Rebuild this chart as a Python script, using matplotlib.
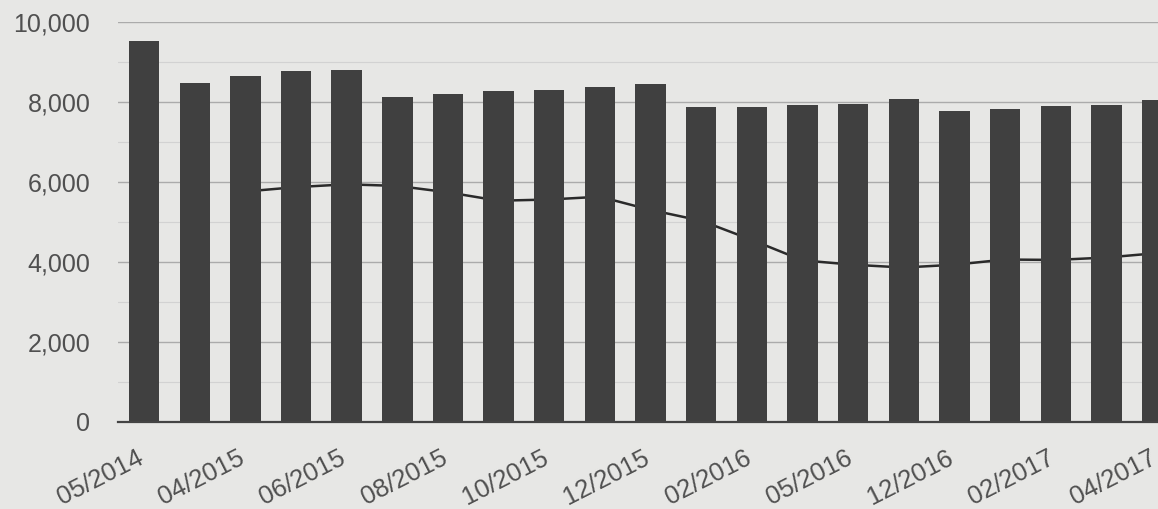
import numpy as np
import matplotlib
matplotlib.use("Agg")
import matplotlib.pyplot as plt
import matplotlib.transforms as mtransforms
from matplotlib.ticker import FuncFormatter, MultipleLocator

# ── data ────────────────────────────────────────────────────────────
months = ["05/2014", "03/2015", "04/2015", "05/2015", "06/2015", "07/2015",
          "08/2015", "09/2015", "10/2015", "11/2015", "12/2015", "01/2016",
          "02/2016", "03/2016", "05/2016", "11/2016", "12/2016", "01/2017",
          "02/2017", "03/2017", "04/2017"]
bar_values = [9520, 8480, 8650, 8780, 8800, 8120, 8200, 8270, 8300, 8370,
              8450, 7870, 7870, 7920, 7950, 8080, 7780, 7830, 7900, 7920,
              8050]
line_values = [np.nan, np.nan, 5760, 5870, 5940, 5900, 5740, 5530, 5560,
               5630, 5300, 5030, 4550, 4040, 3930, 3860, 3930, 4060, 4050,
               4110, 4220]
shown_labels = ["05/2014", "04/2015", "06/2015", "08/2015", "10/2015",
                "12/2015", "02/2016", "05/2016", "12/2016", "02/2017",
                "04/2017"]

BG = "#e7e7e5"
BAR = "#404040"
TXT = "#505050"

plt.rcParams["font.family"] = ["Liberation Sans", "DejaVu Sans"]

fig = plt.figure(figsize=(11.58, 5.09), dpi=100, facecolor=BG)
ax = fig.add_axes([0.102, 0.171, 0.898, 0.786], facecolor=BG)

x = np.arange(len(months))
ax.bar(x, bar_values, width=0.6, color=BAR, zorder=3)
ax.plot(x, line_values, color="#2a2a2a", linewidth=1.8, zorder=2)

ax.set_xlim(-0.513, 20.02)
ax.set_ylim(0, 10000)
ax.yaxis.set_major_locator(MultipleLocator(2000))
ax.yaxis.set_minor_locator(MultipleLocator(1000))
ax.yaxis.set_major_formatter(FuncFormatter(lambda v, p: f"{int(v):,}"))
ax.grid(axis="y", which="major", color="#ababab", linewidth=1.0, zorder=0)
ax.grid(axis="y", which="minor", color="#d2d2d2", linewidth=0.8, zorder=0)

tick_pos = [months.index(m) for m in shown_labels]
ax.set_xticks(tick_pos)
ax.set_xticklabels(shown_labels, rotation=27, ha="right",
                   rotation_mode="anchor", fontsize=18.5, color=TXT)
ax.tick_params(axis="x", length=0, pad=17)
ax.tick_params(axis="y", which="both", length=0, pad=20,
               labelsize=18, labelcolor=TXT)

# nudge the date labels a little left so the last one stays in frame
shift = mtransforms.ScaledTranslation(-8 / 100, 0, fig.dpi_scale_trans)
for lbl in ax.get_xticklabels():
    lbl.set_transform(lbl.get_transform() + shift)

for side in ["top", "right", "left"]:
    ax.spines[side].set_visible(False)
ax.spines["bottom"].set_color("#444444")
ax.spines["bottom"].set_linewidth(1.6)
ax.spines["bottom"].set_zorder(4)

fig.savefig("out.png", dpi=100, facecolor=BG)
